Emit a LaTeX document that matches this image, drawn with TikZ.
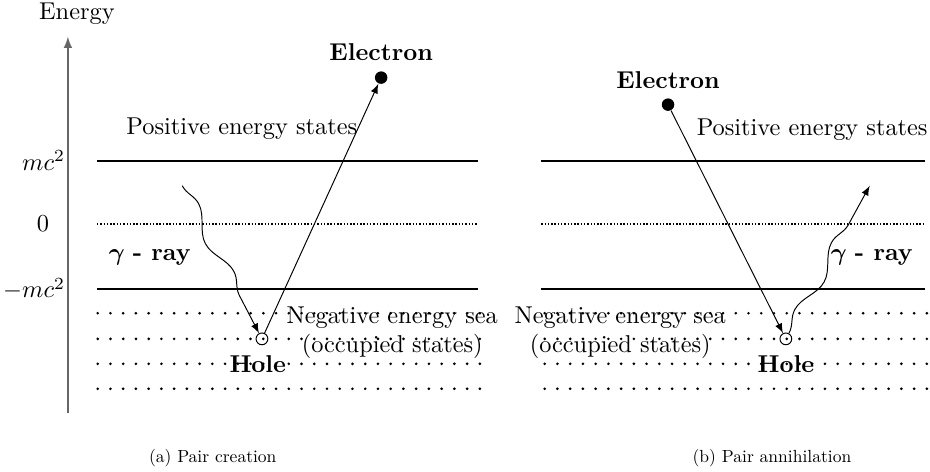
\documentclass[tikz,border=0pt]{standalone}
\usepackage{amsmath, amssymb}
\usepackage{tikz}
\usetikzlibrary{decorations.pathmorphing}

\begin{document}
\begin{tikzpicture}[
    font=\normalsize,
    level/.style={thick},
    zero/.style={line width=1pt, dash pattern=on 0.6pt off 0.75pt},
    sea/.style={line width=1.2pt, line cap=round, dash pattern=on 0pt off 5.23pt},
    axis/.style={semithick, color=black!60, -latex},
    electron/.style={circle, fill=black, inner sep=0pt, minimum size=1.8mm},
    hole/.style={circle, draw, thin, inner sep=0pt, minimum size=1.7mm},
    photon/.style={-latex, decorate, decoration={snake, amplitude=0.9mm, segment length=11mm, post length=1.5mm}},
    track/.style={-latex},
    caption/.style={scale=0.72}
]
\useasboundingbox (0,0) rectangle (13.42,6.81);

% Energy axis
\coordinate (axbot) at (0.98,0.85);
\coordinate (axtop) at (0.98,6.28);
\draw[axis] (axbot) -- (axtop);
\node (energy) at (1.11,6.61) {Energy};
\node[anchor=east, inner sep=1pt] (lplus) at (0.98,4.49) {$mc^2$};
\node (lzero) at (0.62,3.58) {$0$};
\node[anchor=east, inner sep=1pt] (lminus) at (0.98,2.64) {$-mc^2$};

% Pair creation (left)
\draw[level] (1.40,4.49) -- (6.90,4.49);
\draw[zero] (1.40,3.58) -- (6.90,3.58);
\draw[level] (1.40,2.64) -- (6.90,2.64);
\foreach \y in {2.29,1.92,1.56,1.20}
    \draw[sea] (1.41,\y) -- (6.95,\y);

\node (posA) at (3.49,4.96) {Positive energy states};
\node[align=center, inner sep=0pt] (negA) at (5.66,2.01) {Negative energy sea\\(occupied states)};

\node[hole] (holeA) at (3.78,1.92) {};
\node[font=\bfseries] (holelabA) at (3.72,1.55) {Hole};
\node[electron] (elecA) at (5.50,5.69) {};
\node[font=\bfseries] (eleclabA) at (5.50,6.06) {Electron};

\coordinate (gammaA) at (2.63,4.13);
\draw[photon] (gammaA) -- (holeA);
\node (gamlabA) at (2.16,3.09) {{\boldmath$\gamma$} \textbf{- ray}};
\draw[track] (holeA) -- (elecA);

\node[caption] (capA) at (3.07,0.20) {(a) Pair creation};

% Pair annihilation (right)
\draw[level] (7.81,4.49) -- (13.35,4.49);
\draw[zero] (7.81,3.58) -- (13.35,3.58);
\draw[level] (7.81,2.64) -- (13.35,2.64);
\foreach \y in {2.29,1.92,1.56,1.20}
    \draw[sea] (7.86,\y) -- (13.40,\y);

\node (posB) at (11.72,4.94) {Positive energy states};
\node[align=center, inner sep=0pt] (negB) at (8.95,2.01) {Negative energy sea\\(occupied states)};

\node[electron] (elecB) at (9.64,5.30) {};
\node[font=\bfseries] (eleclabB) at (9.64,5.66) {Electron};
\node[hole] (holeB) at (11.34,1.92) {};
\node[font=\bfseries] (holelabB) at (11.34,1.55) {Hole};

\coordinate (gammaB) at (12.55,4.13);
\draw[photon] (holeB) -- (gammaB);
\node (gamlabB) at (12.58,3.09) {{\boldmath$\gamma$} \textbf{- ray}};
\draw[track] (elecB) -- (holeB);

\node[caption] (capB) at (11.14,0.20) {(b) Pair annihilation};

\end{tikzpicture}
\end{document}
